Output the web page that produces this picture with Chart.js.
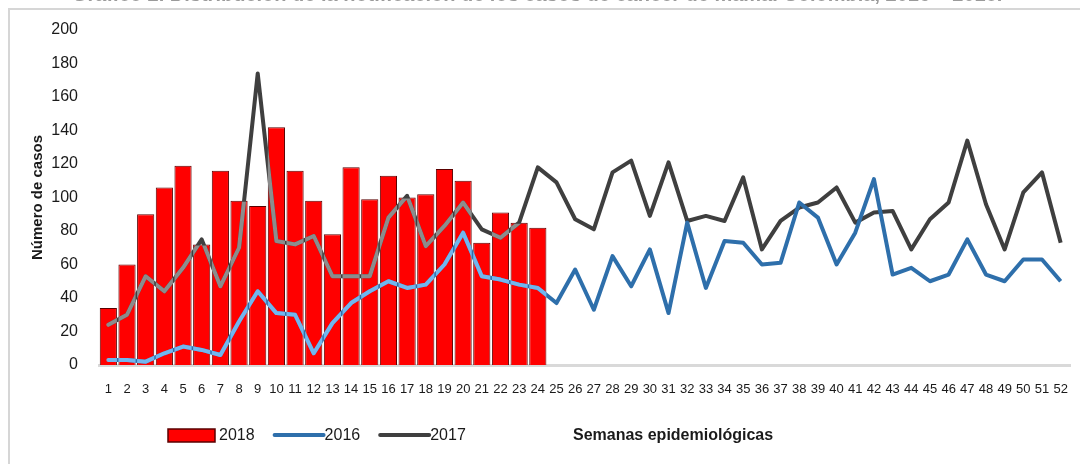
<!DOCTYPE html>
<html>
<head>
<meta charset="utf-8">
<script src="https://cdn.jsdelivr.net/npm/chart.js@4/dist/chart.umd.min.js"></script>
<style>
	html, body { margin: 0; padding: 0; background: #fff; }
	#wrap { width: 1080px; height: 464px; }
</style>
</head>
<body>
<div id="wrap"><canvas id="casos"></canvas></div>
<script>
const semanas = ['1','2','3','4','5','6','7','8','9','10','11','12','13','14','15','16','17','18','19','20','21','22','23','24','25','26',
	'27','28','29','30','31','32','33','34','35','36','37','38','39','40','41','42','43','44','45','46','47','48','49','50','51','52']

const casos2018 = [34, 60, 90, 106, 119, 72, 116, 98, 95, 142, 116, 98, 78, 118, 99, 113, 100, 102, 117, 110, 73, 91, 85, 82]

const casos2016 = [3, 3, 2, 7, 11, 9, 6, 26, 44, 31, 30, 7, 25, 37, 44, 50, 46, 48, 60, 79, 53, 51, 48, 46, 37, 57,
	33, 65, 47, 69, 31, 85, 46, 74, 73, 60, 61, 97, 88, 60, 79, 111, 54, 58, 50, 54, 75, 54, 50, 63, 63, 50]

const casos2017 = [24, 30, 53, 44, 58, 75, 47, 70, 174, 74, 72, 77, 53, 53, 53, 88, 101, 71, 83, 97, 81, 76, 85, 118, 109, 87,
	81, 115, 122, 89, 121, 86, 89, 86, 112, 69, 86, 94, 97, 106, 85, 91, 92, 69, 87, 97, 134, 96, 69, 103, 115, 73]

const yMin = 0
const yMax = 200
const yStep = 20

const titulo = 'Gráfico 2. Distribución de la notificación de los casos de cáncer de mama. Colombia, 2016 – 2018.'
const fuente = "'Liberation Sans', Arial, sans-serif"

// lighter tone where the lines cross the red bars (as in the original image)
const tonoClaro = { 1: '#72b6ee', 2: '#8c8c8c' }

const marco = {
	id: 'marco',
	beforeDraw(chart) {
		const ctx = chart.ctx
		ctx.save()
		ctx.fillStyle = '#fff'
		ctx.fillRect(0, 0, chart.width, chart.height)
		// title, cut at the top edge
		ctx.font = 'bold 20px ' + fuente
		ctx.fillStyle = '#9a9a9a'
		ctx.textBaseline = 'alphabetic'
		ctx.fillText(titulo, 72, 1, 960)
		// frame
		ctx.strokeStyle = '#d6d6d6'
		ctx.lineWidth = 2
		ctx.beginPath()
		ctx.moveTo(9, chart.height)
		ctx.lineTo(9, 9)
		ctx.lineTo(chart.width, 9)
		ctx.stroke()
		ctx.restore()
	},
	afterDatasetsDraw(chart) {
		const ctx = chart.ctx
		const bars = chart.getDatasetMeta(0).data
		ctx.save()
		ctx.beginPath()
		bars.forEach(b => {
			const p = b.getProps(['x', 'y', 'width', 'base'], true)
			ctx.rect(p.x - p.width / 2, p.y + 1, p.width, p.base - p.y - 1)
		})
		ctx.clip()
		;[2, 1].forEach(i => {
			const pts = chart.getDatasetMeta(i).data
			ctx.beginPath()
			pts.forEach((pt, j) => j ? ctx.lineTo(pt.x, pt.y) : ctx.moveTo(pt.x, pt.y))
			ctx.strokeStyle = tonoClaro[i]
			ctx.lineWidth = 4
			ctx.lineJoin = 'round'
			ctx.lineCap = 'round'
			ctx.stroke()
		})
		ctx.restore()
	},
	afterDraw(chart) {
		// legend row with the x axis title to its right
		const ctx = chart.ctx
		const ds = chart.data.datasets
		const y = 435
		let x = 168
		ctx.save()
		ctx.font = '16px ' + fuente
		ctx.textBaseline = 'middle'
		ds.forEach((d, i) => {
			if (d.type === 'bar') {
				ctx.fillStyle = d.backgroundColor
				ctx.fillRect(x, y - 6, 47, 13)
				ctx.strokeStyle = d.borderColor
				ctx.lineWidth = 1.5
				ctx.strokeRect(x, y - 6, 47, 13)
			} else {
				ctx.strokeStyle = d.borderColor
				ctx.lineWidth = 4
				ctx.lineCap = 'round'
				ctx.beginPath()
				ctx.moveTo(x + 1, y)
				ctx.lineTo(x + 50, y)
				ctx.stroke()
			}
			x += 51
			ctx.fillStyle = '#1a1a1a'
			ctx.fillText(d.label, x, y + 1)
			x += ctx.measureText(d.label).width + 19
		})
		ctx.font = 'bold 16px ' + fuente
		ctx.fillText('Semanas epidemiológicas', 573, y + 1)
		ctx.restore()
	}
}

new Chart(document.getElementById('casos'), {
	data: {
		labels: semanas,
		datasets: [
			{
				type: 'bar',
				label: '2018',
				data: casos2018,
				backgroundColor: '#ff0000',
				borderColor: '#5a0000',
				borderWidth: 1,
				barPercentage: 0.92,
				categoryPercentage: 1,
				order: 1,
			},
			{
				type: 'line',
				label: '2016',
				data: casos2016,
				borderColor: '#2e6fab',
				borderWidth: 4,
				pointRadius: 0,
				tension: 0,
				borderJoinStyle: 'round',
				order: 0,
			},
			{
				type: 'line',
				label: '2017',
				data: casos2017,
				borderColor: '#3f3f3f',
				borderWidth: 4,
				pointRadius: 0,
				tension: 0,
				borderJoinStyle: 'round',
				order: 0,
			},
		],
	},
	options: {
		responsive: true,
		maintainAspectRatio: false,
		animation: false,
		layout: { padding: { top: 30, left: 10, right: 10, bottom: 0 } },
		plugins: {
			legend: { display: false },
			tooltip: { enabled: false },
		},
		scales: {
			x: {
				grid: { display: false },
				border: { display: true, color: '#d9d9d9', width: 3 },
				ticks: {
					autoSkip: false,
					maxRotation: 0,
					padding: 9,
					color: '#1a1a1a',
					font: { family: fuente, size: 13 },
				},
				afterFit(scale) { scale.height = 99 },
			},
			y: {
				min: yMin,
				max: yMax,
				grid: { display: false },
				border: { display: false },
				ticks: {
					stepSize: yStep,
					padding: 13,
					color: '#1a1a1a',
					font: { family: fuente, size: 16 },
				},
				title: {
					display: true,
					text: 'Número de casos',
					color: '#1a1a1a',
					font: { family: fuente, size: 15, weight: 'bold' },
					padding: { top: 19, bottom: 0 },
				},
				afterFit(scale) { scale.width = 89 },
			},
		},
	},
	plugins: [marco],
})
</script>
</body>
</html>
